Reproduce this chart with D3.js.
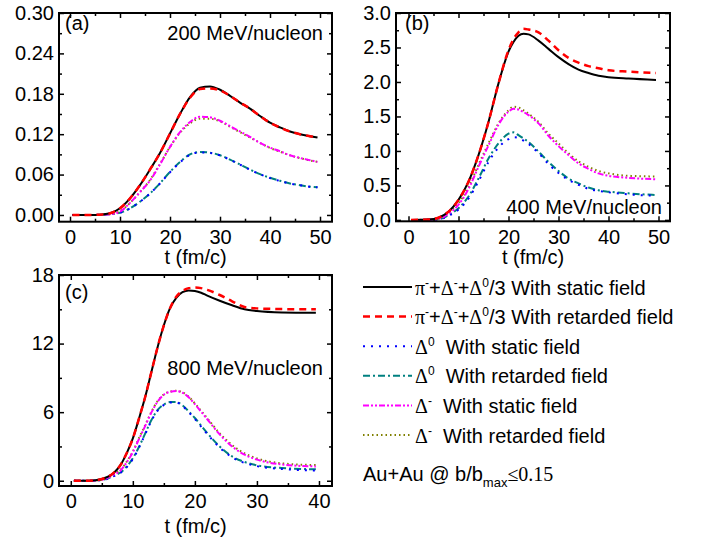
<!DOCTYPE html>
<html><head><meta charset="utf-8">
<script src="https://cdn.jsdelivr.net/npm/d3@7"></script>
<style>body{margin:0;background:#fff}svg{display:block}</style>
</head><body>
<svg id="chart" width="721" height="543"></svg>
<script>
// ---------- DATA ----------
// Panel (a) 200 MeV/nucleon
const tA = [0.5, 4, 6, 8, 10, 12, 14, 16, 18, 20, 22, 24, 26, 28, 30, 32, 34, 36, 38, 40, 42, 44, 46, 48, 49.5];
const aTotStatic   = [0, 0, 0.0005, 0.0025, 0.0099, 0.0246, 0.0443, 0.0675, 0.092, 0.121, 0.150, 0.175, 0.189, 0.191, 0.186, 0.177, 0.167, 0.158, 0.147, 0.137, 0.130, 0.124, 0.120, 0.117, 0.115];
const aTotRetarded = [0, 0, 0.0005, 0.0025, 0.0099, 0.0246, 0.0443, 0.0675, 0.092, 0.121, 0.150, 0.174, 0.187, 0.188, 0.185, 0.177, 0.167, 0.158, 0.147, 0.137, 0.130, 0.124, 0.120, 0.117, 0.115];
const aD0Static    = [0, 0, 0.0002, 0.001, 0.0033, 0.0097, 0.0195, 0.0318, 0.0468, 0.0635, 0.078, 0.0893, 0.093, 0.0922, 0.0885, 0.082, 0.0748, 0.0672, 0.0605, 0.0548, 0.0505, 0.0466, 0.0442, 0.042, 0.041];
const aD0Retarded  = [0, 0, 0.0002, 0.001, 0.0034, 0.0099, 0.0197, 0.032, 0.047, 0.064, 0.0788, 0.090, 0.0936, 0.0926, 0.0887, 0.0823, 0.075, 0.0675, 0.0606, 0.0552, 0.0507, 0.0468, 0.0443, 0.0419, 0.041];
const aDmStatic    = [0, 0, 0.0003, 0.001, 0.005, 0.018, 0.034, 0.051, 0.075, 0.101, 0.123, 0.138, 0.146, 0.145, 0.140, 0.132, 0.124, 0.116, 0.107, 0.100, 0.0946, 0.0887, 0.0847, 0.0813, 0.0788];
const aDmRetarded  = [0, 0, 0.0003, 0.0012, 0.0055, 0.018, 0.034, 0.052, 0.076, 0.101, 0.122, 0.136, 0.143, 0.143, 0.139, 0.131, 0.123, 0.115, 0.107, 0.0995, 0.094, 0.0885, 0.0845, 0.081, 0.079];

// Panel (b) 400 MeV/nucleon
const tB = [0.5, 4, 6, 8, 10, 12, 14, 16, 18, 20, 21, 22, 23, 24, 26, 28, 30, 32, 34, 36, 38, 40, 44, 49.5];
const bTotStatic   = [0, 0.005, 0.034, 0.12, 0.29, 0.555, 0.94, 1.42, 1.98, 2.44, 2.58, 2.67, 2.70, 2.69, 2.60, 2.48, 2.36, 2.26, 2.18, 2.13, 2.09, 2.07, 2.05, 2.03];
const bTotRetarded = [0, 0.005, 0.034, 0.12, 0.29, 0.555, 0.94, 1.42, 1.98, 2.46, 2.62, 2.72, 2.77, 2.76, 2.72, 2.60, 2.46, 2.35, 2.28, 2.23, 2.20, 2.17, 2.15, 2.13];
const bD0Static    = [0, 0.001, 0.008, 0.06, 0.15, 0.31, 0.56, 0.84, 1.05, 1.17, 1.20, 1.19, 1.15, 1.10, 0.97, 0.81, 0.68, 0.58, 0.51, 0.45, 0.42, 0.40, 0.37, 0.35];
const bD0Retarded  = [0, 0.001, 0.01, 0.07, 0.17, 0.34, 0.60, 0.89, 1.11, 1.25, 1.27, 1.23, 1.18, 1.13, 0.99, 0.84, 0.71, 0.60, 0.53, 0.47, 0.43, 0.41, 0.385, 0.36];
const bDmStatic    = [0, 0.002, 0.013, 0.09, 0.22, 0.45, 0.77, 1.08, 1.38, 1.57, 1.61, 1.60, 1.565, 1.52, 1.40, 1.22, 1.07, 0.94, 0.82, 0.74, 0.675, 0.64, 0.61, 0.59];
const bDmRetarded  = [0, 0.002, 0.015, 0.10, 0.24, 0.48, 0.80, 1.11, 1.40, 1.59, 1.64, 1.63, 1.59, 1.54, 1.42, 1.25, 1.11, 0.965, 0.85, 0.77, 0.71, 0.675, 0.64, 0.63];

// Panel (c) 800 MeV/nucleon
const tC = [0.5, 3, 5, 6, 7, 8, 9, 10, 11, 12, 13, 14, 15, 16, 17, 18, 19, 20, 21, 22, 24, 26, 28, 30, 34, 39.5];
const cTotStatic   = [0, 0, 0.15, 0.35, 0.73, 1.37, 2.4, 3.7, 5.46, 7.35, 9.54, 11.7, 13.6, 15.1, 16.0, 16.5, 16.65, 16.6, 16.45, 16.2, 15.75, 15.35, 15.0, 14.85, 14.73, 14.7];
const cTotRetarded = [0, 0, 0.15, 0.35, 0.73, 1.37, 2.4, 3.7, 5.46, 7.35, 9.54, 11.7, 13.6, 15.1, 16.1, 16.6, 16.85, 16.9, 16.85, 16.7, 16.25, 15.7, 15.2, 15.08, 15.02, 15.0];
const cD0Static    = [0, 0, 0.07, 0.18, 0.42, 0.68, 1.18, 1.9, 2.9, 4.08, 5.25, 6.13, 6.63, 6.84, 6.85, 6.55, 6.0, 5.4, 4.74, 4.08, 2.9, 2.05, 1.56, 1.28, 1.03, 0.9];
const cD0Retarded  = [0, 0, 0.08, 0.2, 0.45, 0.72, 1.23, 1.96, 2.97, 4.15, 5.31, 6.19, 6.68, 6.88, 6.88, 6.6, 6.07, 5.49, 4.83, 4.17, 3.0, 2.13, 1.64, 1.35, 1.11, 1.0];
const cDmStatic    = [0, 0, 0.08, 0.27, 0.55, 0.9, 1.6, 2.5, 3.65, 4.8, 5.98, 6.93, 7.53, 7.78, 7.85, 7.7, 7.3, 6.7, 6.05, 5.38, 4.05, 3.0, 2.28, 1.85, 1.42, 1.25];
const cDmRetarded  = [0, 0, 0.1, 0.3, 0.6, 0.94, 1.66, 2.57, 3.74, 4.87, 6.04, 6.97, 7.56, 7.79, 7.87, 7.73, 7.35, 6.77, 6.12, 5.46, 4.15, 3.12, 2.4, 1.96, 1.52, 1.37];

// Tick labels
const xTicksAB = [0, 10, 20, 30, 40, 50];
const xMinorAB = [5, 15, 25, 35, 45];
const xTicksC  = [0, 10, 20, 30, 40];
const xMinorC  = [5, 15, 25, 35];
const yTicksA  = [0.00, 0.06, 0.12, 0.18, 0.24, 0.30];
const yMinorA  = [0.03, 0.09, 0.15, 0.21, 0.27];
const yTicksB  = [0.0, 0.5, 1.0, 1.5, 2.0, 2.5, 3.0];
const yMinorB  = [0.25, 0.75, 1.25, 1.75, 2.25, 2.75];
const yTicksC  = [0, 6, 12, 18];
const yMinorC  = [3, 9, 15];

const energyLabels = ["200 MeV/nucleon", "400 MeV/nucleon", "800 MeV/nucleon"];
const panelLetters = ["(a)", "(b)", "(c)"];
const xTitle = "t (fm/c)";

// ---------- STYLES ----------
const styles = [
  {color: "#000000", dash: null,          width: 2},
  {color: "#ff0000", dash: "7,5",         width: 2.5},
  {color: "#0000ff", dash: "2,6",         width: 2},
  {color: "#008080", dash: "7,3,2,3",     width: 2},
  {color: "#ff00ff", dash: "6,2,2,2,2,2", width: 2},
  {color: "#808000", dash: "1.5,3",       width: 2}
];

const SANS = "'Liberation Sans', Arial, sans-serif";
const SERIF = "'Liberation Serif', 'Times New Roman', serif";
const FS = 20;

const svg = d3.select("#chart");

const panels = [
  {t: tA, s: [aTotStatic, aTotRetarded, aD0Static, aD0Retarded, aDmStatic, aDmRetarded],
   xd: [-2.2, 52.4], xr: [59, 332], yd: [-0.01, 0.30], yr: [221.7, 13],
   xt: xTicksAB, xm: xMinorAB, yt: yTicksA, ym: yMinorA, fmt: d3.format(".2f"),
   letter: panelLetters[0], lpos: [65, 30],
   energy: energyLabels[0], epos: [323, 39.5], eanchor: "end",
   tickY: 244, titleY: 264},
  {t: tB, s: [bTotStatic, bTotRetarded, bD0Static, bD0Retarded, bDmStatic, bDmRetarded],
   xd: [-2.5, 52.3], xr: [396, 670], yd: [-0.02, 3.0], yr: [221.3, 13],
   xt: xTicksAB, xm: xMinorAB, yt: yTicksB, ym: yMinorB, fmt: d3.format(".1f"),
   letter: panelLetters[1], lpos: [405, 30],
   energy: energyLabels[1], epos: [662, 213.5], eanchor: "end",
   tickY: 244, titleY: 264},
  {t: tC, s: [cTotStatic, cTotRetarded, cD0Static, cD0Retarded, cDmStatic, cDmRetarded],
   xd: [-1.9, 42.1], xr: [59, 332], yd: [-0.46, 18], yr: [486, 275],
   xt: xTicksC, xm: xMinorC, yt: yTicksC, ym: yMinorC, fmt: d3.format("d"),
   letter: panelLetters[2], lpos: [65, 299],
   energy: energyLabels[2], epos: [323, 375], eanchor: "end",
   tickY: 508, titleY: 533}
];

function styleAxis(sel) {
  sel.select(".domain").remove();
  sel.selectAll(".tick line").attr("stroke", "#000").attr("stroke-width", 1.5);
  sel.selectAll(".tick text").attr("font-family", SANS).attr("font-size", FS).attr("fill", "#000");
  sel.attr("font-family", SANS).attr("font-size", FS);
}

panels.forEach((p, pi) => {
  const x = d3.scaleLinear().domain(p.xd).range(p.xr);
  const y = d3.scaleLinear().domain(p.yd).range(p.yr);
  const g = svg.append("g");
  const clipId = "clip" + pi;
  svg.append("clipPath").attr("id", clipId).append("rect")
    .attr("x", p.xr[0]).attr("y", p.yr[1]).attr("width", p.xr[1] - p.xr[0]).attr("height", p.yr[0] - p.yr[1]);

  // curves
  const line = d3.line().x(d => x(d[0])).y(d => y(d[1])).curve(d3.curveMonotoneX);
  const order = [3, 2, 5, 4, 0, 1];
  order.forEach(si => {
    const st = styles[si];
    const pts = p.t.map((tv, i) => [tv, p.s[si][i]]);
    g.append("path").attr("d", line(pts)).attr("fill", "none")
      .attr("stroke", st.color).attr("stroke-width", st.width)
      .attr("stroke-dasharray", st.dash).attr("clip-path", `url(#${clipId})`);
  });

  // axes (inward ticks on all four sides)
  const bottom = p.yr[0], top = p.yr[1], left = p.xr[0], right = p.xr[1];
  g.append("g").attr("transform", `translate(0,${bottom})`)
    .call(d3.axisBottom(x).tickValues(p.xt).tickSize(-5).tickPadding(8).tickFormat(d3.format("d"))).call(styleAxis)
    .selectAll(".tick text").attr("y", null).attr("dy", null)
    .attr("transform", `translate(0,${p.tickY - bottom})`);
  g.append("g").attr("transform", `translate(0,${bottom})`)
    .call(d3.axisBottom(x).tickValues(p.xm).tickSize(-3).tickFormat("")).call(styleAxis);
  g.append("g").attr("transform", `translate(0,${top})`)
    .call(d3.axisTop(x).tickValues(p.xt).tickSize(-5).tickFormat("")).call(styleAxis);
  g.append("g").attr("transform", `translate(0,${top})`)
    .call(d3.axisTop(x).tickValues(p.xm).tickSize(-3).tickFormat("")).call(styleAxis);
  g.append("g").attr("transform", `translate(${left},0)`)
    .call(d3.axisLeft(y).tickValues(p.yt).tickSize(-5).tickPadding(5).tickFormat(p.fmt)).call(styleAxis);
  g.append("g").attr("transform", `translate(${left},0)`)
    .call(d3.axisLeft(y).tickValues(p.ym).tickSize(-3).tickFormat("")).call(styleAxis);
  g.append("g").attr("transform", `translate(${right},0)`)
    .call(d3.axisRight(y).tickValues(p.yt).tickSize(-5).tickFormat("")).call(styleAxis);
  g.append("g").attr("transform", `translate(${right},0)`)
    .call(d3.axisRight(y).tickValues(p.ym).tickSize(-3).tickFormat("")).call(styleAxis);

  // frame
  g.append("rect").attr("x", left).attr("y", top).attr("width", right - left).attr("height", bottom - top)
    .attr("fill", "none").attr("stroke", "#000").attr("stroke-width", 2);

  // texts
  g.append("text").attr("x", (left + right) / 2).attr("y", p.titleY).attr("text-anchor", "middle")
    .attr("font-family", SANS).attr("font-size", FS).text(xTitle);
  g.append("text").attr("x", p.lpos[0]).attr("y", p.lpos[1])
    .attr("font-family", SANS).attr("font-size", FS).text(p.letter);
  g.append("text").attr("x", p.epos[0]).attr("y", p.epos[1]).attr("text-anchor", p.eanchor)
    .attr("font-family", SANS).attr("font-size", FS).text(p.energy);
});

// ---------- LEGEND ----------
const legendRows = [
  {parts: [["π", "serif"], ["-", "sup"], ["+", "sans"], ["Δ", "serif"], ["-", "sup"], ["+", "sans"], ["Δ", "serif"], ["0", "sup"], ["/3 With static field", "sans"]]},
  {parts: [["π", "serif"], ["-", "sup"], ["+", "sans"], ["Δ", "serif"], ["-", "sup"], ["+", "sans"], ["Δ", "serif"], ["0", "sup"], ["/3 With retarded field", "sans"]]},
  {parts: [["Δ", "serif"], ["0", "sup"], ["\u00a0 With static field", "sans"]]},
  {parts: [["Δ", "serif"], ["0", "sup"], ["\u00a0 With retarded field", "sans"]]},
  {parts: [["Δ", "serif"], ["-", "sup"], ["\u00a0 With static field", "sans"]]},
  {parts: [["Δ", "serif"], ["-", "sup"], ["\u00a0 With retarded field", "sans"]]}
];

const lg = svg.append("g");
const rowY = d3.scaleLinear().domain([0, 5]).range([287, 435]);
const legX = d3.scaleLinear().domain([0, 1]).range([363, 412]);
legendRows.forEach((row, i) => {
  const st = styles[i];
  const cy = rowY(i);
  lg.append("path").attr("d", d3.line()([[legX(0), cy], [legX(1), cy]]))
    .attr("stroke", st.color).attr("stroke-width", st.width).attr("stroke-dasharray", st.dash).attr("fill", "none");
  const txt = lg.append("text").attr("x", 415).attr("y", cy + 7.5).attr("font-size", FS).attr("font-family", SANS);
  let shifted = false;
  row.parts.forEach(([s, kind]) => {
    const ts = txt.append("tspan").text(s);
    if (kind === "serif") {
      ts.attr("font-family", SERIF);
      if (shifted) { ts.attr("dy", 8); shifted = false; }
    } else if (kind === "sup") {
      ts.attr("font-family", SANS).attr("font-size", 12).attr("dy", shifted ? 0 : -8);
      shifted = true;
    } else {
      if (shifted) { ts.attr("dy", 8); shifted = false; }
    }
  });
});

// Note
const note = lg.append("text").attr("x", 363).attr("y", 481).attr("font-size", FS).attr("font-family", SANS);
note.append("tspan").text("Au+Au @ b/b");
note.append("tspan").attr("font-size", 13).attr("dy", 6).text("max");
note.append("tspan").attr("font-family", SERIF).attr("dy", -6).text("≤0.15");
</script>
</body></html>
